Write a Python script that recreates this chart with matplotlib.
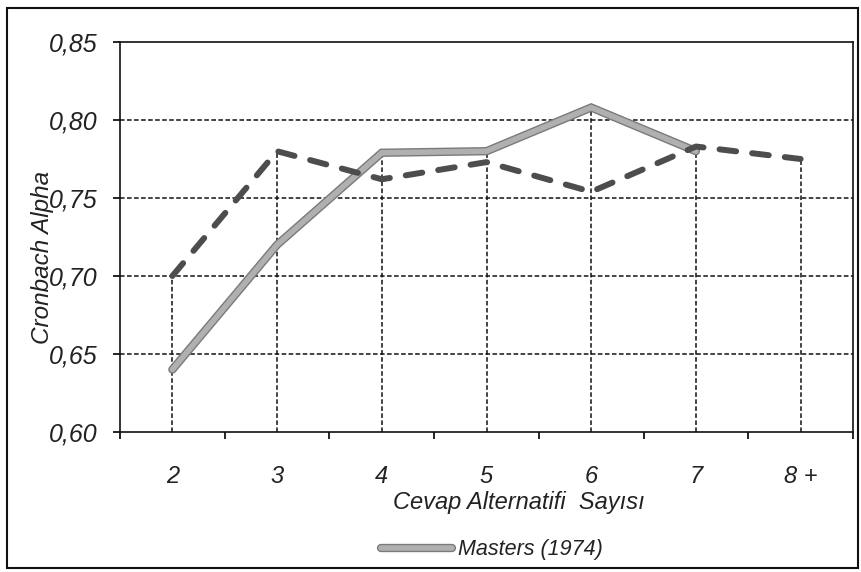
import numpy as np
import matplotlib.pyplot as plt
import matplotlib.patheffects as pe
from matplotlib.patches import Rectangle
# ================================================
# DATA
# ================================================
cats      = ['2', '3', '4', '5', '6', '7', '8 +']
masters   = [0.640, 0.720, 0.779, 0.780, 0.808, 0.780]          # ends at 7
other     = [0.700, 0.780, 0.762, 0.773, 0.754, 0.783, 0.775]
yticks    = [0.60, 0.65, 0.70, 0.75, 0.80, 0.85]
ylabels   = ['0,60', '0,65', '0,70', '0,75', '0,80', '0,85']
# ================================================
plt.rcParams['font.family'] = ['Liberation Sans', 'DejaVu Sans']
plt.rcParams['font.style']  = 'italic'
txt = '#222222'

fig = plt.figure(figsize=(8.61, 5.72), dpi=100)
ax  = fig.add_axes([120/861, 1 - 432/572, 733/861, 390/572])

x = np.arange(len(cats))

# horizontal grid + drop lines
grid_ls = (0, (3, 1.6))
for yv in yticks[1:-1]:
    ax.axhline(yv, color='#111', lw=1.1, ls=grid_ls, zorder=1)
tops = [max(m, o) for m, o in zip(masters + [0], other)]
ax.vlines(x, 0.60, tops, color='#111', lw=1.1, ls=grid_ls, zorder=1)

gray_fx = [pe.Stroke(linewidth=6.0, foreground='#7a7a7a'), pe.Normal()]
l1, = ax.plot(x[:len(masters)], masters, color='#b0b0b0', lw=4.0,
              solid_capstyle='round', solid_joinstyle='miter',
              path_effects=gray_fx, zorder=3, label='Masters (1974)')
ax.plot(x, other, color='#4d4d4d', lw=4.3, dashes=(2.8, 2.7),
        dash_capstyle='round', zorder=4)

ax.set_xlim(-0.5, 6.5)
ax.set_ylim(0.60, 0.85)
ax.set_yticks(yticks)
ax.set_yticklabels(ylabels, fontsize=18, color=txt)
ax.set_xticks(x)
ax.set_xticklabels(cats, fontsize=17, color=txt)
ax.set_xticks(np.arange(-0.5, 7.0, 1.0), minor=True)
ax.tick_params(axis='x', which='major', length=0, pad=24)
ax.tick_params(axis='x', which='minor', length=5, width=1.2, direction='out')
ax.tick_params(axis='y', length=5, width=1.2, direction='out', pad=11)
for s in ax.spines.values():
    s.set_linewidth(1.2)
    s.set_color('#111')

fig.text(519/861, 1 - 502/572, 'Cevap Alternatifi  Sayısı', fontsize=17, color=txt,
         ha='center', va='center')
fig.text(43/861, 1 - 257/572, 'Cronbach Alpha', fontsize=17.5, color=txt,
         ha='center', va='center', rotation=90)

fig.legend(handles=[l1], loc='center', bbox_to_anchor=(492/861, 1 - 550/572),
           frameon=False, fontsize=15.5, handlelength=3.3, handletextpad=0.3,
           labelcolor=txt)

fig.patches.append(Rectangle((7/861, 4/572), 851/861, 560/572, transform=fig.transFigure,
                             fill=False, lw=1.5, ec='#111'))

plt.savefig('out.png', dpi=100)
plt.close()
